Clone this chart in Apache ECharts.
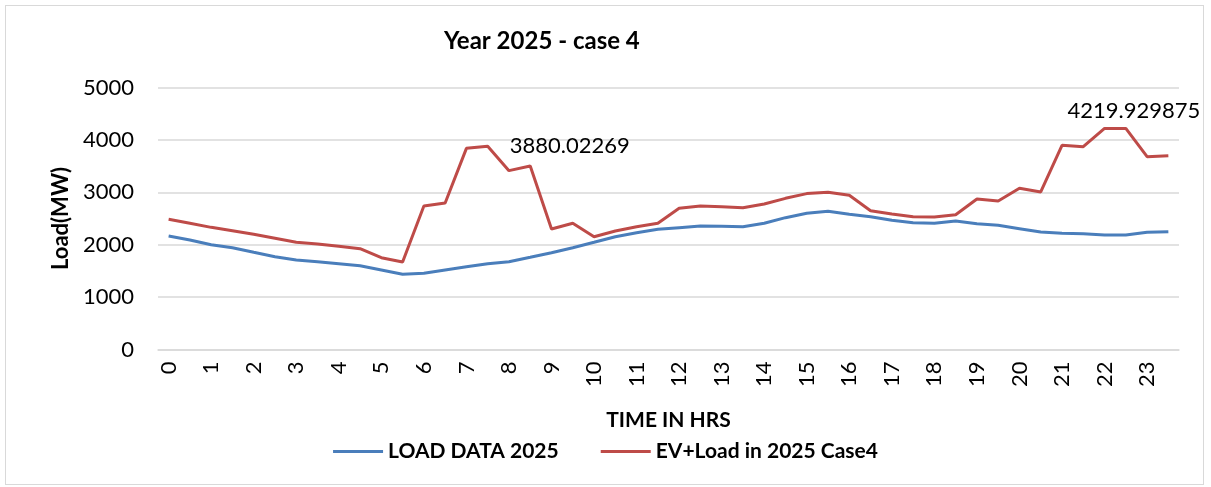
<!DOCTYPE html>
<html><head><meta charset="utf-8">
<script src="https://cdn.jsdelivr.net/npm/echarts@6/dist/echarts.min.js"></script>
<style>html,body{margin:0;padding:0;background:#fff}#c{width:1211px;height:487px}
#frame{position:absolute;left:5px;top:5px;width:1199px;height:480px;border:1px solid #d9d9d9;box-sizing:border-box;pointer-events:none}</style>
</head><body><div id="c"></div><div id="frame"></div>
<script>
const hourLabels = ['0','1','2','3','4','5','6','7','8','9','10','11','12','13','14','15','16','17','18','19','20','21','22','23'];
const loadData2025 = [2166,2090,2000,1943,1855,1771,1708,1676,1638,1599,1517,1435,1454,1517,1580,1638,
  1676,1759,1847,1943,2046,2153,2229,2293,2325,2357,2351,2344,2408,2516,2599,2637,
  2580,2535,2465,2420,2408,2452,2401,2370,2306,2242,2218,2211,2185,2185,2237,2248];
const evLoad2025Case4 = [2484,2408,2331,2267,2198,2122,2046,2013,1969,1924,1752,1670,2739,2796,3839,3880.02269,
  3413,3502,2300,2408,2153,2261,2344,2408,2694,2739,2726,2706,2777,2885,2975,3000,
  2942,2649,2586,2535,2529,2573,2872,2834,3076,3006,3896,3871,4219.929875,4219.929875,3679,3699];
const yTicks = [0,1000,2000,3000,4000,5000];

const categories = [];
hourLabels.forEach(h => { categories.push(h); categories.push(h + '.5'); });

const F = 'Lato, "Open Sans", sans-serif';
const redData = evLoad2025Case4.map((v, i) => {
  if (i === 15) return {value: v, label: {show: true, position: 'right', distance: 22, formatter: '3880.02269'}};
  if (i === 45) return {value: v, label: {show: true, position: 'top', distance: 6, offset: [8, 0], formatter: '4219.929875'}};
  return v;
});

const chart = echarts.init(document.getElementById('c'), null, {renderer: 'canvas'});
chart.setOption({
  animation: false,
  backgroundColor: '#fff',
  title: {text: 'Year 2025 - case 4', left: 439, top: 24,
    textStyle: {fontFamily: F, fontWeight: 'bold', fontSize: 24, color: '#000'}},
  grid: {left: 158, right: 32, top: 87.5, bottom: 137.5},
  legend: {bottom: 20, left: 'center', itemWidth: 50, itemHeight: 3, itemGap: 42, icon: 'rect',
    textStyle: {fontFamily: F, fontWeight: 'bold', fontSize: 21, color: '#000'},
    data: ['LOAD DATA 2025', 'EV+Load in 2025 Case4']},
  xAxis: {type: 'category', data: categories, boundaryGap: true,
    name: 'TIME IN HRS', nameLocation: 'middle', nameGap: 60,
    nameTextStyle: {fontFamily: F, fontWeight: 'bold', fontSize: 21, color: '#000'},
    axisLine: {lineStyle: {color: '#d9d9d9', width: 1.5}}, axisTick: {show: false},
    axisLabel: {interval: 1, rotate: 90, margin: 12, fontFamily: F, fontSize: 22, color: '#000',
      formatter: v => v.indexOf('.') >= 0 ? '' : v}},
  yAxis: {type: 'value', min: 0, max: 5000, interval: 1000,
    name: 'Load(MW)', nameLocation: 'middle', nameGap: 84, nameRotate: 90,
    nameTextStyle: {fontFamily: F, fontWeight: 'bold', fontSize: 22, color: '#000'},
    axisLine: {show: false}, axisTick: {show: false},
    axisLabel: {margin: 24, fontFamily: F, fontSize: 22, color: '#000',
      formatter: v => yTicks.includes(v) ? String(v) : ''},
    splitLine: {lineStyle: {color: '#d9d9d9', width: 1.5}}},
  series: [
    {name: 'LOAD DATA 2025', type: 'line', data: loadData2025, symbol: 'none',
      lineStyle: {color: '#4a7ebb', width: 3}, itemStyle: {color: '#4a7ebb'}},
    {name: 'EV+Load in 2025 Case4', type: 'line', data: redData, symbol: 'circle', symbolSize: 0.01,
      showAllSymbol: true,
      lineStyle: {color: '#be4b48', width: 3}, itemStyle: {color: '#be4b48'},
      label: {show: false, fontFamily: F, fontSize: 22, color: '#000'}}
  ]
});
</script></body></html>
